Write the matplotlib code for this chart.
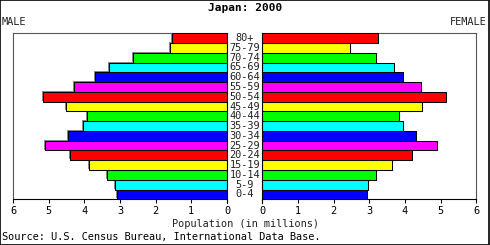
import matplotlib
matplotlib.use("Agg")
import matplotlib.pyplot as plt
import matplotlib.patheffects as pe

ages = ["0-4", "5-9", "10-14", "15-19", "20-24", "25-29", "30-34", "35-39",
        "40-44", "45-49", "50-54", "55-59", "60-64", "65-69", "70-74", "75-79", "80+"]
male = [3.09, 3.13, 3.36, 3.86, 4.40, 5.11, 4.46, 4.05,
        3.92, 4.51, 5.15, 4.29, 3.69, 3.31, 2.63, 1.59, 1.53]
female = [2.94, 2.97, 3.19, 3.64, 4.20, 4.89, 4.32, 3.95,
          3.84, 4.49, 5.16, 4.44, 3.95, 3.70, 3.18, 2.47, 3.24]
palette = ["#0000FF", "#00FFFF", "#00FF00", "#FFFF00", "#FF0000", "#FF00FF"]
colors = [palette[i % 6] for i in range(len(ages))]
ticks = [0, 1, 2, 3, 4, 5, 6]

FONT = "DejaVu Sans Mono"
FS = 7.4

W, H = 490, 245
fig = plt.figure(figsize=(W / 100, H / 100), dpi=100)
fig.patch.set_facecolor("white")

def frac_x(px):
    return px / W

def frac_y(py):
    return 1 - py / H

ax_l = fig.add_axes([frac_x(13), frac_y(199.3), 214 / W, 166 / H])
ax_r = fig.add_axes([frac_x(262.3), frac_y(199.3), 214 / W, 166 / H])

y = list(range(len(ages)))
bl = ax_l.barh(y, male, height=1.0, color=colors, edgecolor="black", linewidth=0.75, zorder=3)
br = ax_r.barh(y, female, height=1.0, color=colors, edgecolor="black", linewidth=0.75, zorder=3)
for p in bl:
    p.set_path_effects([pe.SimplePatchShadow(offset=(-0.7, 0.7), shadow_rgbFace="#888888", alpha=1), pe.Normal()])
for p in br:
    p.set_path_effects([pe.SimplePatchShadow(offset=(0.7, -0.7), shadow_rgbFace="#888888", alpha=1), pe.Normal()])

ax_l.set_xlim(6, 0)
ax_r.set_xlim(0, 6)
for ax in (ax_l, ax_r):
    ax.set_ylim(-0.5, len(ages) - 0.5)
    ax.set_yticks([])
    ax.set_xticks(ticks)
    ax.set_xticklabels([str(t) for t in ticks], fontfamily=FONT, fontsize=FS)
    ax.tick_params(axis="x", direction="out", length=3, width=0.75, pad=2, color="black")
    ax.spines["bottom"].set_color("black")
    ax.spines["bottom"].set_linewidth(0.8)
    ax.spines["top"].set_color("#555555")
    ax.spines["top"].set_linewidth(0.8)
    ax.set_facecolor("white")

ax_l.spines["right"].set_visible(False)
ax_l.spines["left"].set_color("#555555")
ax_l.spines["left"].set_linewidth(0.8)
ax_r.spines["left"].set_visible(False)
ax_r.spines["right"].set_color("#555555")
ax_r.spines["right"].set_linewidth(0.8)

# baseline lines extending below to the ticks
ax_l.axvline(0, ymin=-0.022, ymax=1, color="black", linewidth=0.8, clip_on=False, zorder=4)
ax_r.axvline(0, ymin=-0.022, ymax=1, color="black", linewidth=0.8, clip_on=False, zorder=4)

# age labels in the centre column
row_h = 166 / len(ages)
for i, a in enumerate(ages):
    py = 199.3 - (i + 0.5) * row_h
    fig.text(frac_x(244.8), frac_y(py), a, ha="center", va="center",
             fontfamily=FONT, fontsize=FS, color="#222222")

fig.text(frac_x(245), frac_y(8), "Japan: 2000", ha="center", va="center",
         fontfamily=FONT, fontsize=8, fontweight="bold")
fig.text(frac_x(2), frac_y(22), "MALE", ha="left", va="center",
         fontfamily=FONT, fontsize=FS, color="#222222")
fig.text(frac_x(487), frac_y(22), "FEMALE", ha="right", va="center",
         fontfamily=FONT, fontsize=FS, color="#222222")
fig.text(frac_x(245), frac_y(224), "Population (in millions)", ha="center", va="center",
         fontfamily=FONT, fontsize=FS, color="#222222")
fig.text(frac_x(2), frac_y(237), "Source: U.S. Census Bureau, International Data Base.",
         ha="left", va="center", fontfamily=FONT, fontsize=FS, color="black")

# outer border
fig.add_artist(plt.Rectangle((0.001, 0.002), 0.997, 0.996, transform=fig.transFigure,
                             fill=False, edgecolor="black", linewidth=1.2))

fig.savefig("out.png", dpi=100)
